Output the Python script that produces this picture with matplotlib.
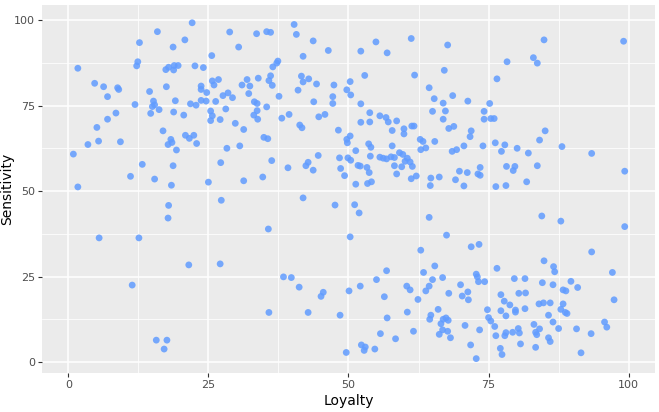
import matplotlib
matplotlib.use("Agg")
import matplotlib.pyplot as plt
import numpy as np

# Loyalty / Sensitivity points
loyalty = [
    22.1, 15.9, 20.8, 12.7, 18.7, 12.4, 12.2, 1.7, 17.4, 17.9, 18.8, 18.9, 19.6, 22.6,
    4.7, 6.3, 8.8, 9.0, 17.5, 7.0, 14.5, 15.2, 11.9, 15.0, 15.4, 16.2, 19.1, 21.8,
    22.8, 8.5, 14.7, 18.8, 20.6, 7.0, 5.1, 16.9,
    20.9, 21.6, 22.4, 22.9, 18.3, 18.5, 17.8, 19.3, 3.5, 5.4, 9.3, 0.9, 13.2, 18.7,
    11.1, 15.4, 18.4, 1.7, 17.9, 17.8, 5.5, 12.6,
    21.5, 11.4, 15.7, 17.6, 17.1,
    40.3, 40.7, 28.8, 33.6, 35.4, 36.1, 43.7, 30.4, 46.4, 25.6, 41.9, 37.4, 37.2, 36.5,
    24.1, 25.7, 26.8, 26.0, 23.7, 23.7, 24.7, 31.9, 33.9, 31.0, 32.4, 36.1, 35.8, 36.4,
    32.2, 27.6, 28.5, 29.3, 23.7, 24.6, 26.3, 37.6, 41.6, 41.9, 42.9, 44.3, 47.4, 41.0,
    49.7, 50.3, 50.4, 47.2, 47.2, 43.8, 33.2, 33.7, 35.4, 28.1, 25.4, 25.7, 25.4, 27.1,
    29.8, 31.3, 33.1, 33.7, 33.8, 38.1, 39.4, 41.3, 41.7, 44.7, 45.8, 48.2,
    28.3, 30.6, 34.9, 35.6, 27.2, 36.3, 25.0, 31.3, 34.7, 39.2, 42.4, 42.8, 43.7, 44.6,
    48.4, 48.6, 49.3, 49.9, 50.4, 49.7, 49.8, 50.3, 27.3, 41.9, 47.6, 35.7, 50.3,
    27.1, 38.4, 39.8, 41.2, 45.5, 45.1, 50.1, 35.8, 42.8, 48.5, 49.6,
    61.2, 54.9, 52.2, 56.9, 67.7, 78.3, 52.9, 61.8, 67.1, 76.5, 64.4, 65.3, 68.6, 52.2,
    66.9, 71.3, 75.2, 53.8, 55.6, 56.7, 52.2, 53.8, 57.1, 58.6, 65.0, 67.3, 66.9, 74.2,
    74.2, 75.4, 76.0, 61.3, 61.7, 67.9, 68.8, 57.8, 59.9, 71.9,
    59.9, 71.7, 62.8, 63.3, 65.4, 53.6, 54.0, 57.8, 51.3, 62.9, 63.8, 68.5, 69.3, 70.6,
    74.0, 76.2, 77.9, 77.3, 53.9, 55.6, 56.2, 56.8, 57.6, 58.2, 59.1, 59.7, 60.5, 60.1,
    61.0, 61.4, 51.7, 52.1, 53.3, 53.7, 58.2, 59.5, 58.6, 61.2, 62.1, 64.7, 66.2, 64.6,
    51.3, 53.4, 54.1, 69.8, 71.2, 69.1, 73.1, 73.5, 73.5, 70.6, 76.3, 78.1, 78.2, 51.1,
    51.9, 64.4, 67.5, 62.9, 71.9, 73.3,
    65.4, 63.4, 56.8, 55.0, 52.1, 65.0, 66.8, 64.4, 63.8, 60.4, 61.0, 67.9, 62.4, 56.4,
    70.0, 71.3, 70.3, 71.4, 72.8, 73.0, 73.2, 74.3, 76.5, 77.2, 77.8, 66.0, 64.7, 64.5,
    66.9, 67.4, 67.8, 66.5, 60.5, 56.9, 61.6, 55.7, 58.4, 66.8, 67.7, 66.2, 68.2, 70.8,
    73.4, 74.8, 75.0, 75.4, 76.1, 77.2, 78.1, 76.3, 77.9, 78.1, 77.1, 77.4, 71.8, 72.8,
    52.3, 53.0, 52.8, 54.7,
    84.9, 99.1, 83.0, 83.7, 85.1,
    84.1, 88.1, 80.1, 82.1, 93.4, 79.7, 79.4, 83.7, 99.3, 81.8, 84.5, 87.9, 99.3, 93.4,
    84.9, 86.6, 86.8, 97.1, 79.6, 81.5, 84.6, 86.5, 89.7, 90.9, 88.3, 88.8, 80.4, 81.6,
    97.4, 78.8, 79.8, 79.8, 81.5, 84.0, 84.8, 86.0, 88.3, 87.9, 88.7, 89.0, 85.7, 86.5,
    83.1, 87.5, 90.7, 93.3, 95.7, 96.1, 80.3, 80.5, 79.3, 83.4, 83.6, 84.1, 85.7, 86.0,
    80.7, 83.4, 91.5,
]
sensitivity = [
    99.2, 96.6, 94.2, 93.4, 92.1, 87.8, 86.6, 85.9, 85.5, 86.2, 85.4, 86.7, 86.7, 86.6,
    81.5, 80.5, 80.2, 79.7, 80.5, 77.6, 79.1, 76.3, 75.3, 74.7, 75.2, 73.8, 76.4, 75.5,
    75.1, 72.8, 72.7, 73.1, 72.2, 71.0, 68.6, 67.6,
    66.3, 65.4, 66.3, 63.9, 65.1, 64.2, 63.6, 62.0, 63.6, 64.6, 64.4, 60.8, 57.8, 57.4,
    54.3, 53.5, 51.7, 51.2, 45.8, 42.1, 36.3, 36.3,
    28.4, 22.5, 6.4, 6.4, 3.8,
    98.7, 95.8, 96.5, 96.0, 96.6, 96.4, 93.9, 92.1, 91.1, 89.6, 89.4, 88.0, 87.4, 86.3,
    86.1, 82.2, 82.6, 81.0, 80.7, 79.7, 78.8, 82.6, 83.0, 81.0, 80.7, 83.7, 82.3, 80.9,
    78.5, 77.9, 78.7, 77.3, 76.5, 76.3, 76.2, 77.7, 83.6, 81.9, 82.8, 81.3, 81.0, 79.5,
    79.6, 82.0, 78.1, 77.6, 75.6, 76.1, 76.1, 75.6, 74.6, 74.0, 73.4, 72.0, 70.6, 70.9,
    69.8, 68.0, 72.2, 73.5, 71.0, 71.3, 72.4, 69.3, 68.5, 71.7, 72.4, 67.8,
    62.5, 63.2, 65.7, 65.3, 58.3, 58.9, 52.6, 53.0, 54.1, 56.8, 57.4, 58.4, 56.1, 60.4,
    59.7, 56.6, 54.5, 59.7, 59.0, 65.1, 64.1, 66.1, 47.3, 48.0, 45.9, 38.9, 36.6,
    28.7, 24.9, 24.7, 21.9, 20.4, 19.2, 20.8, 14.5, 14.5, 13.7, 2.8,
    94.6, 93.6, 90.9, 90.4, 92.7, 87.8, 83.8, 83.9, 85.3, 82.8, 80.2, 77.0, 77.9, 75.5,
    75.7, 76.3, 75.6, 72.9, 72.0, 71.5, 70.1, 70.2, 70.2, 70.5, 73.3, 73.4, 71.0, 73.3,
    71.0, 71.2, 71.2, 69.0, 69.0, 68.3, 68.9, 67.7, 68.2, 67.6,
    66.7, 65.9, 65.1, 64.5, 64.5, 63.8, 62.8, 63.2, 61.8, 62.1, 62.6, 61.6, 62.1, 63.2,
    63.2, 64.1, 63.5, 61.6, 60.2, 59.9, 59.6, 59.4, 60.0, 59.8, 61.2, 60.7, 59.6, 58.7,
    58.5, 57.2, 57.5, 57.3, 56.9, 55.4, 57.4, 57.1, 55.0, 53.6, 54.4, 53.8, 54.1, 51.6,
    52.0, 52.2, 52.7, 55.8, 55.4, 53.3, 55.0, 54.6, 56.9, 51.5, 51.3, 51.6, 57.2, 46.0,
    43.6, 42.3, 37.1, 32.7, 33.7, 34.4,
    28.1, 26.2, 26.7, 24.1, 22.2, 24.1, 24.7, 22.2, 20.8, 22.2, 21.1, 20.1, 18.3, 19.1,
    22.6, 20.5, 19.3, 18.2, 25.7, 24.9, 23.5, 23.5, 27.4, 19.7, 17.8, 15.4, 13.7, 12.5,
    12.5, 12.9, 12.2, 11.2, 14.6, 12.9, 9.0, 8.3, 6.8, 9.4, 9.0, 8.1, 7.1, 10.7,
    9.4, 15.3, 13.0, 12.0, 10.4, 15.0, 13.5, 7.7, 7.7, 8.6, 4.0, 2.2, 5.0, 1.0,
    5.0, 4.4, 3.4, 3.8,
    94.2, 93.8, 89.0, 87.4, 67.6,
    64.9, 63.0, 62.5, 61.1, 61.0, 57.2, 56.0, 57.4, 55.8, 52.7, 42.7, 41.2, 39.6, 32.2,
    29.6, 27.9, 26.4, 26.2, 24.4, 24.4, 23.2, 22.6, 23.6, 21.8, 21.1, 20.8, 20.1, 20.2,
    18.2, 16.7, 15.2, 14.6, 15.6, 17.0, 17.3, 17.3, 17.0, 15.4, 14.5, 14.2, 13.7, 11.7,
    11.0, 9.8, 9.7, 8.3, 11.7, 10.2, 9.8, 8.5, 8.7, 8.7, 8.0, 9.7, 7.1, 6.0,
    5.3, 4.3, 2.7,
]

major = [0, 25, 50, 75, 100]
minor = [12.5, 37.5, 62.5, 87.5]

fig = plt.figure(figsize=(6.59, 4.12), dpi=100)
ax = fig.add_axes([0.0637, 0.0947, 0.9302, 0.8932])
ax.set_facecolor('#EBEBEB')

ax.scatter(loyalty, sensitivity, s=24, color='#619CFF', alpha=0.85,
           edgecolors='none', zorder=3)

ax.set_xlim(-4.7, 104.7)
ax.set_ylim(-3.2, 104.4)
ax.set_xticks(major)
ax.set_yticks(major)
ax.set_xticks(minor, minor=True)
ax.set_yticks(minor, minor=True)
ax.grid(which='major', color='white', linewidth=1.1, zorder=1)
ax.grid(which='minor', color='white', linewidth=0.55, zorder=1)
for sp in ax.spines.values():
    sp.set_visible(False)
ax.tick_params(which='major', length=3, width=0.8, color='#333333',
               labelsize=8, labelcolor='#4D4D4D', pad=2)
ax.tick_params(which='minor', length=0)

ax.set_xlabel('Loyalty', fontsize=10, labelpad=3)
ax.set_ylabel('Sensitivity', fontsize=10)
ax.yaxis.set_label_coords(-0.045, 0.5)

fig.savefig('out.png', dpi=100)
